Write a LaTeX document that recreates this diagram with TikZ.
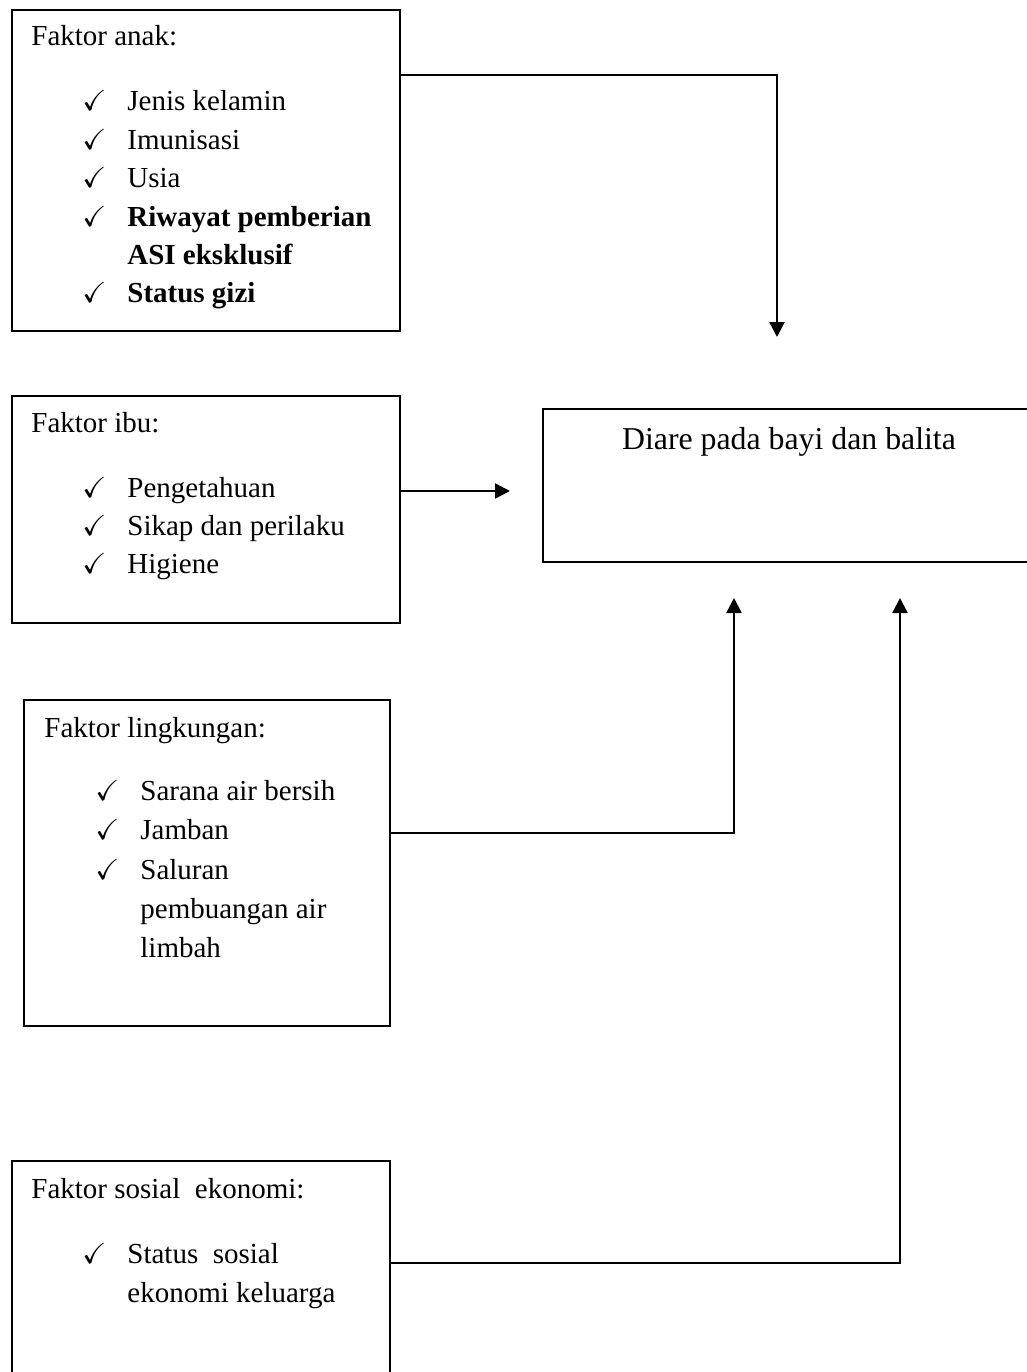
\documentclass[tikz,border=0pt]{standalone}
\usepackage{amssymb}
\usepackage{fontspec}
\setmainfont{Liberation Serif}
\usetikzlibrary{arrows.meta}
\tikzstyle{faktor}=[draw, line width=1pt, anchor=north west, inner sep=0pt]
\tikzstyle{teks}=[anchor=base west, inner sep=0pt, font=\fontsize{14.5}{19}\selectfont]
\tikzstyle{panah}=[line width=1.2pt, -{Triangle[length=7.5pt,width=7.5pt]}]

\begin{document}
\begin{tikzpicture}[x=0.5pt,y=-0.5pt]
\useasboundingbox (0,0) rectangle (1027,1372);
% kotak faktor
\node[faktor, minimum width=194pt, minimum height=160.5pt] (anak) at (11,9) {};
\node[faktor, minimum width=194pt, minimum height=113.5pt] (ibu) at (11,395) {};
\node[faktor, minimum width=183pt, minimum height=163pt] (lingkungan) at (23,699) {};
\node[faktor, minimum width=189pt, minimum height=115pt] (sosial) at (11,1160) {};
\node[faktor, minimum width=250pt, minimum height=76.5pt] (diare) at (542,408) {};
\node[teks, anchor=base, font=\fontsize{15.9}{19}\selectfont] (judul) at (789,449) {Diare pada bayi dan balita};

% faktor anak
\node[teks] (tanak) at (31,45) {Faktor anak:};
\foreach \y/\t in {110/Jenis kelamin, 149/Imunisasi, 187/Usia} {
	\node[teks] (ca\y) at (82,\y) {$\checkmark$};
	\node[teks] (ia\y) at (127,\y) {\t};
}
\foreach \y/\t in {226/Riwayat pemberian, 302/Status gizi} {
	\node[teks] (ca\y) at (82,\y) {$\checkmark$};
	\node[teks] (ia\y) at (127,\y) {\bfseries\t};
}
\node[teks] (ia264) at (127,264) {\bfseries ASI eksklusif};

% faktor ibu
\node[teks] (tibu) at (31,432) {Faktor ibu:};
\foreach \y/\t in {497/Pengetahuan, 535/Sikap dan perilaku, 573/Higiene} {
	\node[teks] (cb\y) at (82,\y) {$\checkmark$};
	\node[teks] (ib\y) at (127,\y) {\t};
}

% faktor lingkungan
\node[teks] (tling) at (44,737) {Faktor lingkungan:};
\foreach \y/\t in {800/Sarana air bersih, 839/Jamban, 879/Saluran} {
	\node[teks] (cl\y) at (95,\y) {$\checkmark$};
	\node[teks] (il\y) at (140,\y) {\t};
}
\node[teks] (il918) at (140,918) {pembuangan air};
\node[teks] (il957) at (140,957) {limbah};

% faktor sosial ekonomi
\node[teks] (tsos) at (31,1198) {Faktor sosial\ \ ekonomi:};
\node[teks] (cs1263) at (82,1263) {$\checkmark$};
\node[teks] (is1263) at (127,1263) {Status\ \ sosial};
\node[teks] (is1302) at (127,1302) {ekonomi keluarga};

% panah
\coordinate (ujung1) at (777,337);
\coordinate (ujung2) at (510,491);
\coordinate (ujung3) at (734,598);
\coordinate (ujung4) at (900,598);
\draw[panah] (anak.east |- 0,75) -| (ujung1);
\draw[panah] (ibu.east |- 0,491) -- (ujung2);
\draw[panah] (lingkungan.east |- 0,833) -| (ujung3);
\draw[panah] (sosial.east |- 0,1263) -| (ujung4);
\end{tikzpicture}
\end{document}
